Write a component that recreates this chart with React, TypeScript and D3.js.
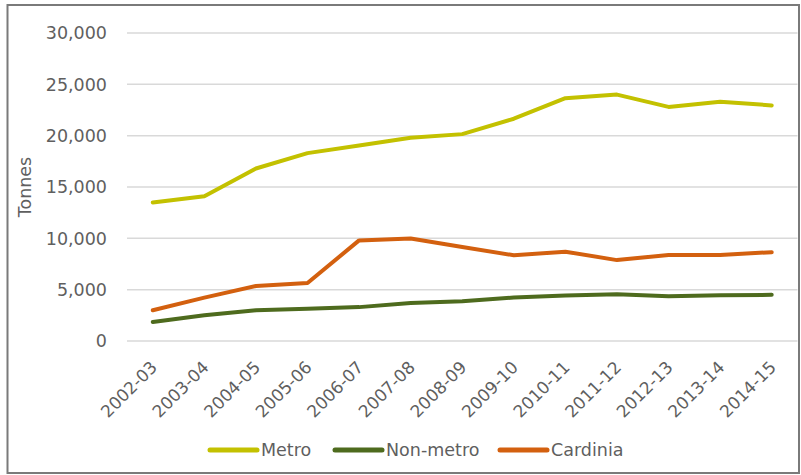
import React from "react";
import * as d3 from "d3";

const categories = ["2002-03","2003-04","2004-05","2005-06","2006-07","2007-08","2008-09","2009-10","2010-11","2011-12","2012-13","2013-14","2014-15"];
const metro = [13500,14100,16800,18300,19050,19800,20150,21650,23650,24000,22800,23300,22950];
const nonMetro = [1850,2500,3000,3150,3300,3700,3880,4230,4420,4550,4350,4450,4500];
const cardinia = [3000,4230,5350,5650,9800,9980,9160,8350,8700,7880,8380,8380,8650];
const yTicks = [0,5000,10000,15000,20000,25000,30000];

const seriesNames = ["Metro","Non-metro","Cardinia"];
const seriesColors = ["#C3C100","#4E6B1E","#D3600F"];
const seriesData = [metro, nonMetro, cardinia];

const W = 801, H = 475;
const left = 127, right = 797.5, top = 33, bottom = 341;
const font = "'DejaVu Sans', sans-serif";
const textColor = "#5f5f5f";

export default function App() {
  const x = d3.scalePoint<string>().domain(categories).range([left, right]).padding(0.5);
  const y = d3.scaleLinear().domain([0, 30000]).range([bottom, top]);
  const line = d3.line<number>().x((_, i) => x(categories[i]) as number).y(d => y(d));
  const fmt = d3.format(",");
  const legendX = [210, 335, 500];

  return (
    <svg width={W} height={H} style={{ position: "absolute", left: 0, top: 0 }}>
      <rect x={0} y={0} width={W} height={H} fill="#fff" />
      <rect x={7.5} y={5} width={791.5} height={468} fill="none" stroke="#7a7a7a" strokeWidth={2} />
      {yTicks.map(t => (
        <g key={t}>
          <line x1={left} x2={right} y1={y(t)} y2={y(t)} stroke="#d9d9d9" strokeWidth={1.5} />
          <text x={107} y={y(t)} dy="0.36em" textAnchor="end" fontFamily={font} fontSize={17.5} fill={textColor}>{fmt(t)}</text>
        </g>
      ))}
      <text transform={`translate(31,${(top + bottom) / 2}) rotate(-90)`} textAnchor="middle" fontFamily={font} fontSize={17.5} fill={textColor}>Tonnes</text>
      {categories.map(c => (
        <text key={c} transform={`translate(${(x(c) as number) - 3},${bottom + 19}) rotate(-45)`} textAnchor="end" dy="0.7em" fontFamily={font} fontSize={17} fill={textColor}>{c}</text>
      ))}
      {seriesData.map((d, i) => (
        <path key={seriesNames[i]} d={line(d) as string} fill="none" stroke={seriesColors[i]} strokeWidth={4} strokeLinejoin="round" strokeLinecap="round" />
      ))}
      {seriesNames.map((n, i) => (
        <g key={n}>
          <line x1={legendX[i]} x2={legendX[i] + 47} y1={450} y2={450} stroke={seriesColors[i]} strokeWidth={5} strokeLinecap="round" />
          <text x={legendX[i] + 51} y={450} dy="0.36em" fontFamily={font} fontSize={17.5} fill={textColor}>{n}</text>
        </g>
      ))}
    </svg>
  );
}
